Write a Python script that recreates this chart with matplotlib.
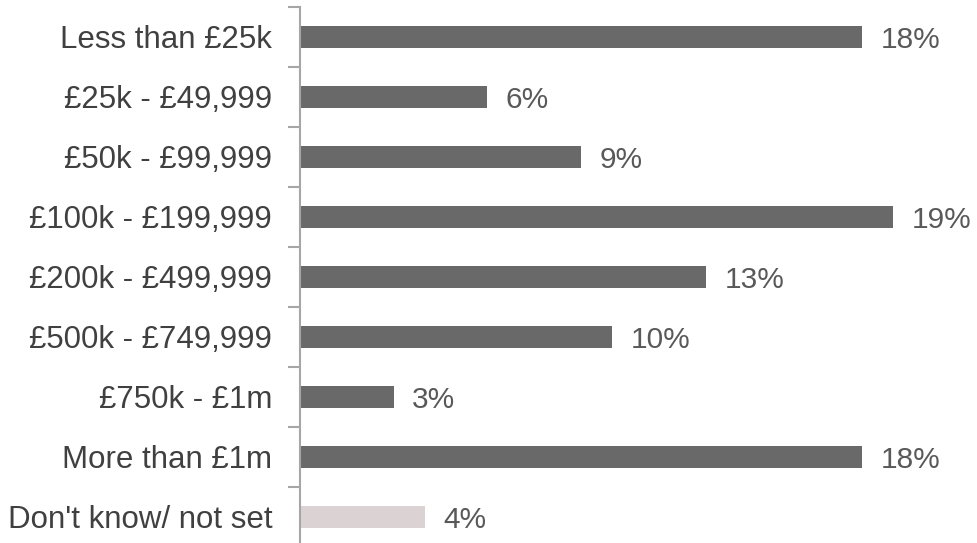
import numpy as np
import matplotlib.pyplot as plt

categories = ["Less than £25k", "£25k - £49,999", "£50k - £99,999", "£100k - £199,999",
              "£200k - £499,999", "£500k - £749,999", "£750k - £1m", "More than £1m",
              "Don't know/ not set"]
values = [18, 6, 9, 19, 13, 10, 3, 18, 4]
colors = ["#696969"] * 8 + ["#dbd3d3"]

plt.rcParams['font.family'] = ['Liberation Sans', 'DejaVu Sans']

fig = plt.figure(figsize=(9.78, 5.43), dpi=100)
ax = fig.add_axes([300 / 978, -4 / 543, 678 / 978, 540 / 543])

y = np.arange(len(categories))
ax.barh(y, values, height=22 / 60, color=colors, left=0)
for yi, v in zip(y, values):
    ax.text(v + 0.6, yi + 0.05, f"{v}%", va="center", ha="left", fontsize=21.5, color="#595959")

ax.set_xlim(0, 678 / 31.2)
ax.set_ylim(len(categories) - 0.5, -0.5)
ax.set_yticks(y)
ax.set_yticklabels(categories, fontsize=22.5, color="#404040")
ax.tick_params(axis="y", which="major", length=0, pad=20)
ax.set_yticks(np.arange(-0.5, len(categories), 1), minor=True)
ax.tick_params(axis="y", which="minor", length=9, width=1.5, color="#a6a6a6")
ax.set_xticks([])
for s in ["top", "right", "bottom"]:
    ax.spines[s].set_visible(False)
ax.spines["left"].set_color("#a6a6a6")
ax.spines["left"].set_linewidth(1.5)

fig.savefig("out.png", dpi=100)
